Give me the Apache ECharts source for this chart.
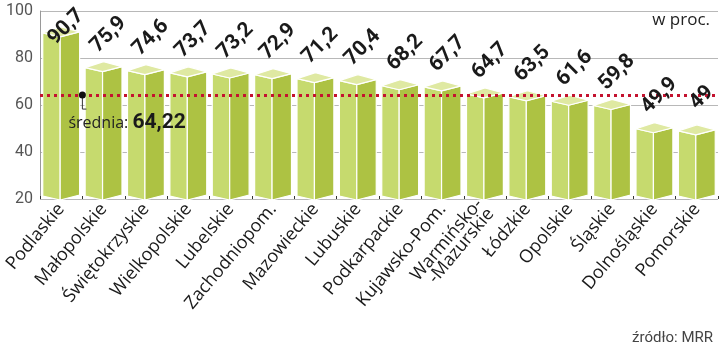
<!DOCTYPE html>
<html lang="pl">
<head>
  <meta charset="UTF-8">
  <title>Województwa - w proc.</title>
  <script src="https://cdn.jsdelivr.net/npm/echarts@6/dist/echarts.min.js"></script>
  <style>
    html, body { margin: 0; padding: 0; background: #fff; }
    #chart { width: 720px; height: 352px; }
  </style>
</head>
<body>
  <div id="chart"></div>
  <script>
    // dane
    const regions = ['Podlaskie', 'Małopolskie', 'Świętokrzyskie', 'Wielkopolskie', 'Lubelskie',
      'Zachodniopom.', 'Mazowieckie', 'Lubuskie', 'Podkarpackie', 'Kujawsko-Pom.',
      'Warmińsko-\n-Mazurskie', 'Łódzkie', 'Opolskie', 'Śląskie', 'Dolnośląskie', 'Pomorskie'];
    const values = [90.7, 75.9, 74.6, 73.7, 73.2, 72.9, 71.2, 70.4, 68.2, 67.7, 64.7, 63.5, 61.6, 59.8, 49.9, 49];
    const average = 64.22;
    const yTicks = [20, 40, 60, 80, 100];

    const chart = echarts.init(document.getElementById('chart'));

    const fmt = v => String(v).replace('.', ',');

    // słupek jako graniastosłup
    function renderBar(params, api) {
      const i = api.value(0);
      const v = api.value(1);
      const top = api.coord([i, v]);
      const base = api.coord([i, yTicks[0]]);
      const w = api.size([1, 0])[0] * 0.87;
      const cx = top[0];
      const xl = cx - w / 2, xr = cx + w / 2, xf = cx - 1;
      const yt = top[1], yb = base[1];
      const stroke = { stroke: '#fff', lineWidth: 1.2 };
      return {
        type: 'group',
        children: [
          {
            type: 'polygon',
            shape: { points: [[xl, yt], [xf, yt + 4], [xf, yb + 1], [xl, yb - 3]] },
            style: Object.assign({ fill: '#c6da6e' }, stroke)
          },
          {
            type: 'polygon',
            shape: { points: [[xf, yt + 4], [xr, yt - 1], [xr, yb - 4], [xf, yb + 1]] },
            style: Object.assign({ fill: '#adc243' }, stroke)
          },
          {
            type: 'polygon',
            shape: { points: [[xl, yt], [xf + 1, yt - 6], [xr, yt - 1], [xf, yt + 4]] },
            style: Object.assign({ fill: '#dfe9a2' }, stroke)
          }
        ]
      };
    }

    const option = {
      animation: false,
      grid: { left: 40, right: 2, top: 11, bottom: 153 },
      xAxis: {
        type: 'category',
        data: regions,
        axisLine: { show: false },
        axisTick: { show: true, inside: true, length: 3, lineStyle: { color: '#333' } },
        axisLabel: {
          rotate: 50,
          interval: 0,
          margin: 7,
          fontFamily: 'Open Sans',
          fontSize: 18,
          lineHeight: 15,
          color: '#1a1a1a'
        }
      },
      yAxis: {
        type: 'value',
        min: 20,
        max: 100,
        interval: 20,
        axisLine: { show: true, lineStyle: { color: '#999' } },
        axisTick: { show: false },
        splitLine: { lineStyle: { color: '#b8b8b8' } },
        axisLabel: {
          fontFamily: 'Roboto',
          fontSize: 16,
          color: '#555',
          margin: 7
        }
      },
      series: [
        {
          type: 'custom',
          renderItem: renderBar,
          data: values.map((v, i) => [i, v]),
          z: 2,
          markLine: {
            silent: true,
            symbol: 'none',
            label: { show: false },
            lineStyle: { color: '#c4122f', width: 3, type: [3, 4] },
            data: [{ yAxis: average }]
          }
        }
      ]
    };

    chart.setOption(option);

    // etykiety wartości (obrócone o 45 stopni)
    const valueLabels = values.map((v, i) => {
      const p = chart.convertToPixel({ seriesIndex: 0 }, [i, v]);
      return {
        type: 'text',
        x: p[0] + 5,
        y: Math.max(p[1] - 33, 27),
        rotation: Math.PI / 4,
        originX: 0,
        originY: 0,
        style: {
          text: fmt(v),
          align: 'center',
          verticalAlign: 'middle',
          font: 'bold 21px Roboto',
          fill: '#1a1a1a'
        },
        z: 90
      };
    });

    // oznaczenie średniej i opisy
    const p0 = chart.convertToPixel({ seriesIndex: 0 }, [0, average]);
    const p1 = chart.convertToPixel({ seriesIndex: 0 }, [1, average]);
    const dx = (p0[0] + p1[0]) / 2;
    const dy = p0[1];

    chart.setOption({
      graphic: valueLabels.concat([
        {
          type: 'polyline',
          shape: { points: [[dx, dy], [dx, dy + 14], [dx + 4, dy + 14]] },
          style: { stroke: '#333', lineWidth: 1, fill: null },
          z: 100
        },
        {
          type: 'circle',
          shape: { cx: dx, cy: dy, r: 3.5 },
          style: { fill: '#111' },
          z: 101
        },
        {
          type: 'text',
          x: dx - 14,
          y: dy + 28,
          style: {
            text: '{a|średnia: }{b|' + fmt(average) + '}',
            verticalAlign: 'middle',
            rich: {
              a: { font: '16px "Open Sans"', fill: '#222' },
              b: { font: 'bold 21px Roboto', fill: '#1a1a1a' }
            }
          },
          z: 100
        },
        {
          type: 'text',
          right: 10,
          top: 12,
          style: { text: 'w proc.', font: '17px "Open Sans"', fill: '#222' }
        },
        {
          type: 'text',
          right: 7,
          top: 331,
          style: { text: 'źródło: MRR', font: '15px Roboto', fill: '#444' }
        }
      ])
    });
  </script>
</body>
</html>
